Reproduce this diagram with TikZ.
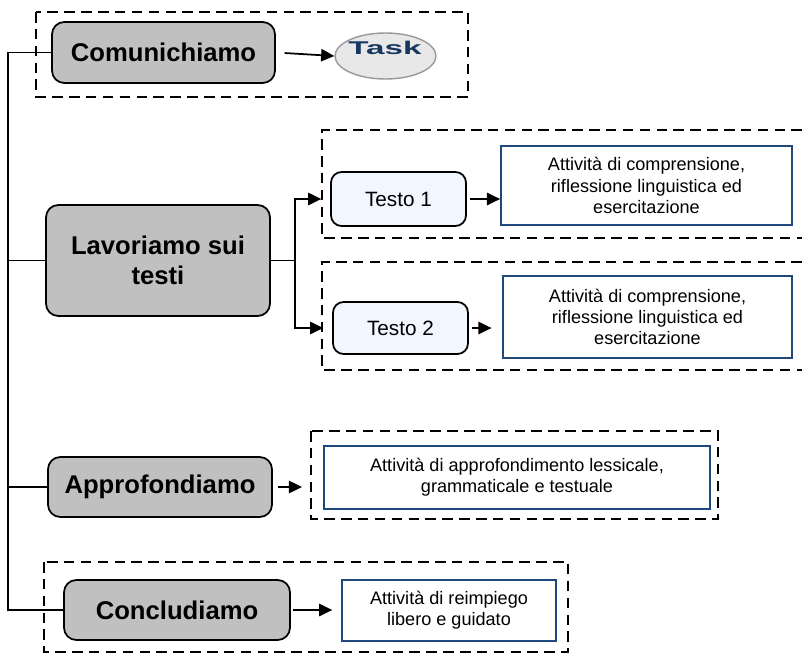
\documentclass[tikz,border=0pt]{standalone}
\usepackage{fontspec}
\setmainfont{Liberation Sans}
\usetikzlibrary{arrows.meta,shapes.geometric}
\definecolor{boxgray}{HTML}{C0C0C0}
\definecolor{testoblue}{HTML}{F2F7FF}
\definecolor{edgeblue}{HTML}{1F497D}
\definecolor{taskblue}{HTML}{17375E}
\begin{document}
\begin{tikzpicture}[x=0.02cm,y=-0.02cm,
  phase/.style={draw,line width=1pt,fill=boxgray,rounded corners=7pt,align=center,font=\fontsize{14.6}{17}\selectfont\bfseries},
  testo/.style={draw,line width=1pt,fill=testoblue,rounded corners=6pt,minimum width=2.7cm,font=\fontsize{11.8}{13}\selectfont},
  attiv/.style={draw=edgeblue,line width=1pt,fill=white,align=center,font=\fontsize{10.3}{12}\selectfont},
  frame/.style={line width=1.7pt,dash pattern=on 6pt off 3.6pt},
  arr/.style={line width=1pt,-{Triangle[length=7.5pt,width=7pt]}}]
\useasboundingbox (0,0) rectangle (802,656);
% dashed frames
\draw[frame] (36,12) rectangle (468,97);
\draw[frame] (802,130) -- (322,130) -- (322,238) -- (802,238);
\draw[frame] (802,262) -- (322,262) -- (322,370) -- (802,370);
\draw[frame] (311,431) rectangle (718,519);
\draw[frame] (44,562) rectangle (568,652);
% phases
\node[phase,minimum width=4.46cm,minimum height=1.22cm] (com) at (163.5,52.5) {Comunichiamo};
\node[phase,minimum width=4.48cm,minimum height=2.22cm] (lav) at (158,260.5) {Lavoriamo sui\\testi};
\node[phase,minimum width=4.48cm,minimum height=1.2cm] (app) at (160,487) {\raisebox{-3pt}{Approfondiamo}};
\node[phase,minimum width=4.52cm,minimum height=1.2cm] (con) at (177,610) {Concludiamo};
% task
\node[ellipse,draw=gray!80,line width=0.8pt,fill=gray!18,minimum width=2.02cm,minimum height=0.92cm,inner sep=0pt] (task) at (385.5,56) {};
\node[text=taskblue,font=\fontsize{10.5}{11}\selectfont\bfseries] (tasklbl) at (385,48) {\scalebox{1.8}[1]{Task}};
% testi
\node[testo,minimum height=1.08cm] (t1) at (398.5,199) {Testo 1};
\node[testo,minimum height=1.04cm] (t2) at (400.5,328) {Testo 2};
% attivita
\node[attiv,minimum width=5.82cm,minimum height=1.58cm] (a1) at (646.5,185.5) {Attività di comprensione,\\riflessione linguistica ed\\esercitazione};
\node[attiv,minimum width=5.78cm,minimum height=1.64cm] (a2) at (647.5,317) {Attività di comprensione,\\riflessione linguistica ed\\esercitazione};
\node[attiv,minimum width=7.72cm,minimum height=1.26cm] (a3) at (517,477.5) {Attività di approfondimento lessicale,\\grammaticale e testuale};
\node[attiv,minimum width=4.28cm,minimum height=1.22cm] (a4) at (449,610.5) {Attività di reimpiego\\libero e guidato};
% connectors
\coordinate (spine) at (8,0);
\coordinate (fork) at (295,0);
\draw[line width=1pt] (com.west) -- (com.west -| spine) -- (con.west -| spine) -- (con.west);
\draw[line width=1pt] (lav.west) -- (lav.west -| spine);
\draw[line width=1pt] (app.west) -- (app.west -| spine);
\draw[arr,shorten <=5pt] (com.east) -- (task.west);
\draw[line width=1pt] (lav.east) -- (lav.east -| fork);
\draw[arr,shorten >=5pt] (lav.east -| fork) |- (t1.west);
\draw[arr,shorten >=5pt] (lav.east -| fork) |- (t2.west);
\draw[arr,shorten <=2pt] (t1.east) -- (t1.east -| a1.west);
\draw[arr,shorten <=2pt,shorten >=6pt] (t2.east) -- (t2.east -| a2.west);
\draw[arr,shorten <=3pt,shorten >=12pt] (app.east) -- (app.east -| a3.west);
\draw[arr,shorten <=1pt,shorten >=5pt] (con.east) -- (con.east -| a4.west);
\end{tikzpicture}
\end{document}
